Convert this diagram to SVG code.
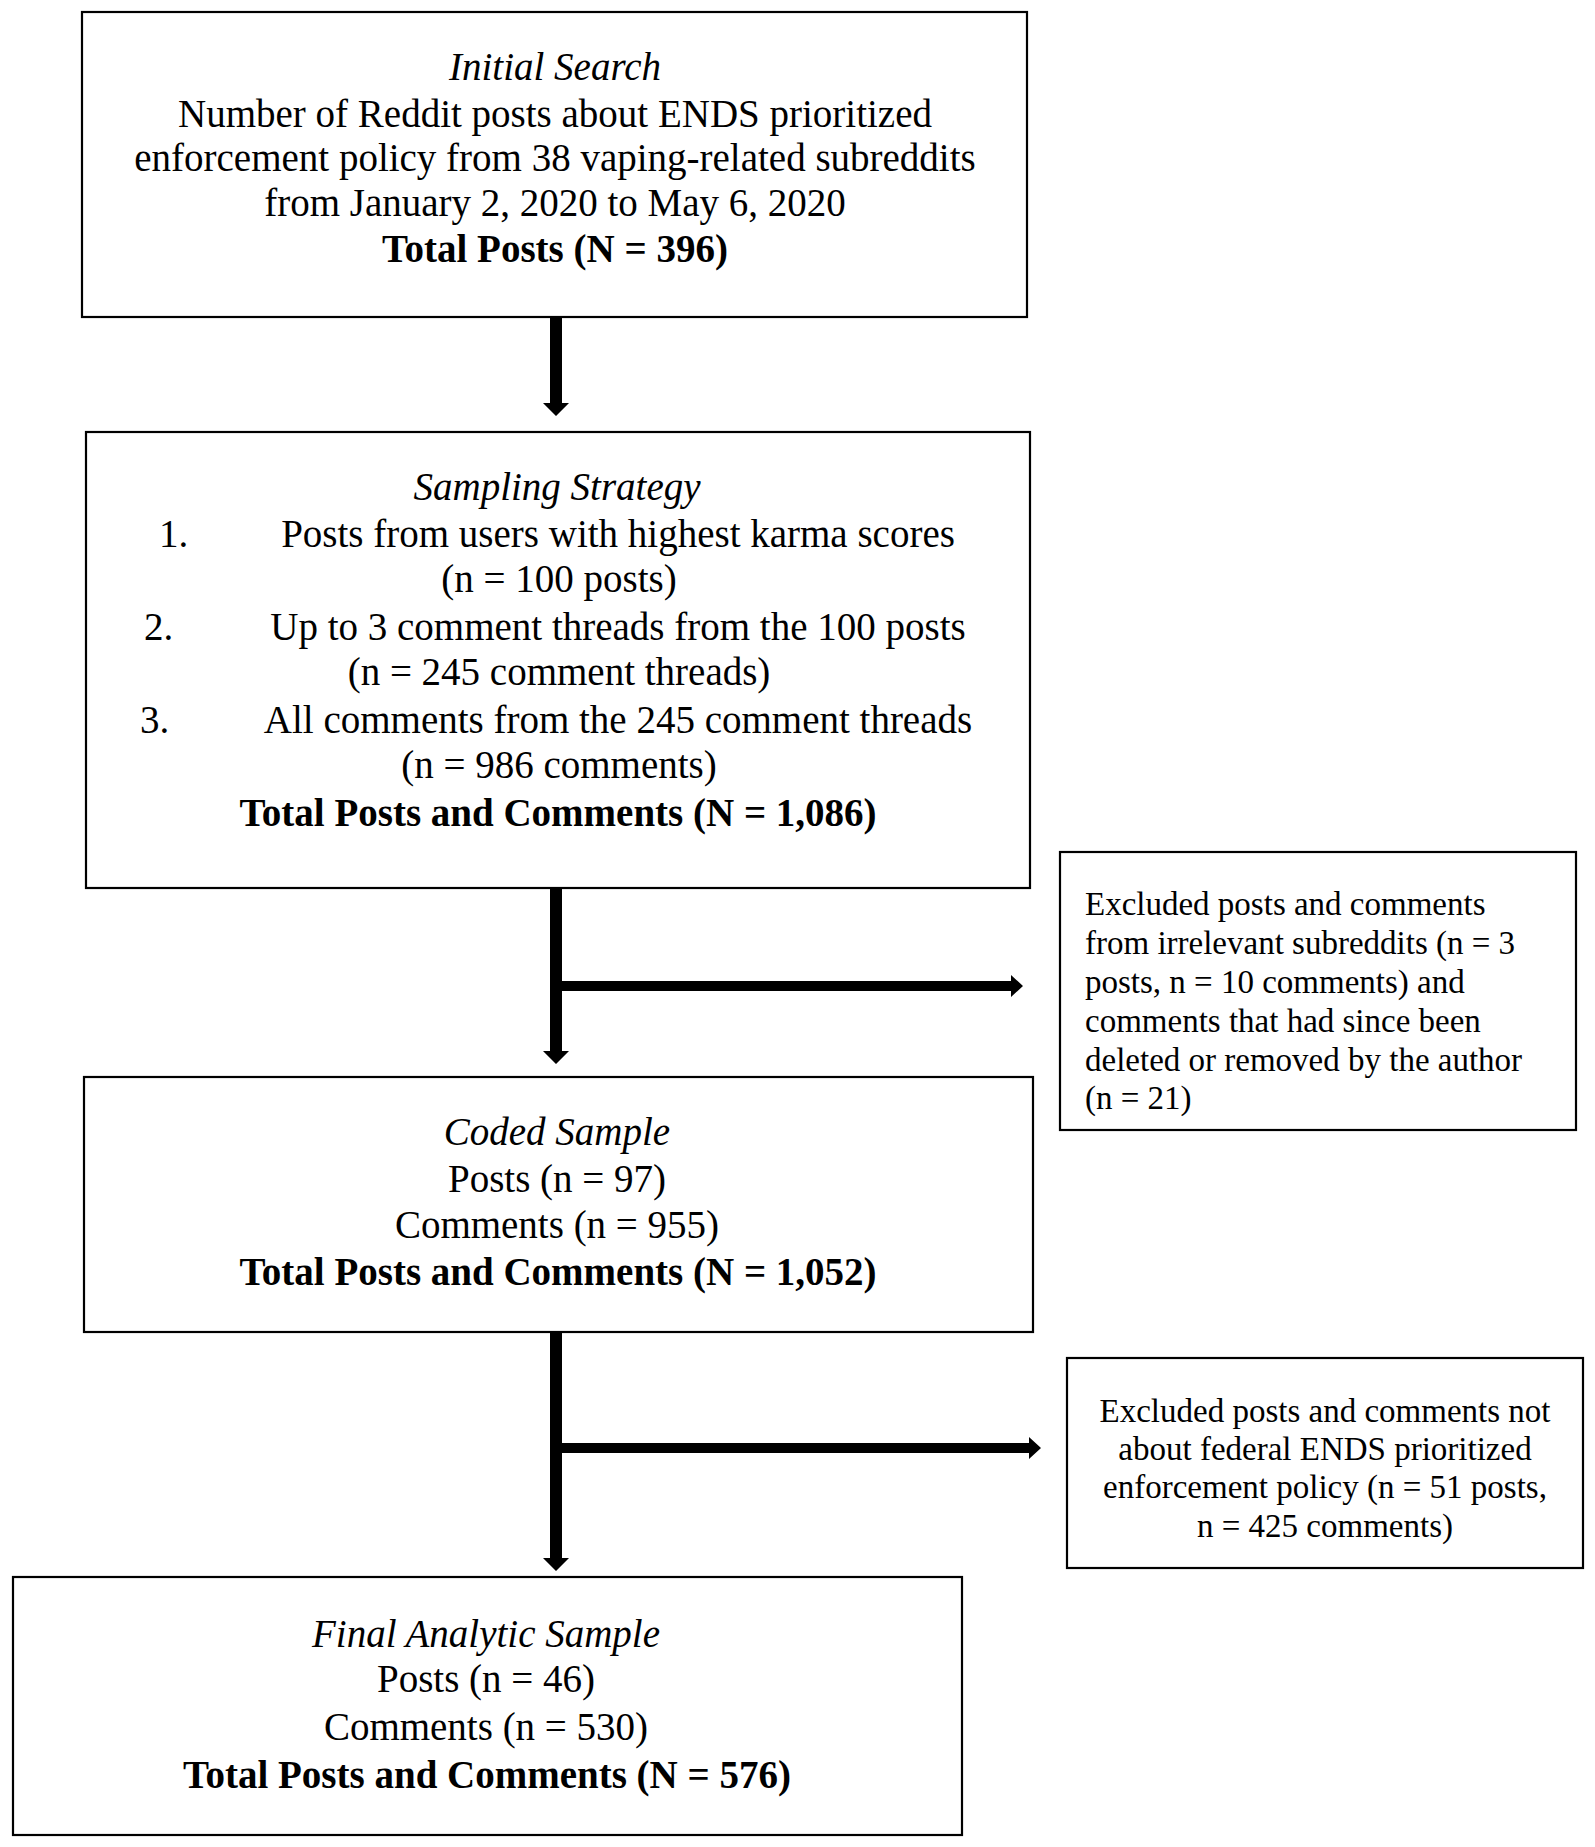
<svg xmlns="http://www.w3.org/2000/svg" width="1595" height="1847" viewBox="0 0 1595 1847">
<style>
.box{fill:#fff;stroke:#000;stroke-width:2.2}
.t{font-family:"Liberation Serif","Times New Roman",serif;font-size:39px;fill:#000}
.s{font-family:"Liberation Serif","Times New Roman",serif;font-size:33px;fill:#000}
.c{text-anchor:middle}
.i{font-style:italic}
.b{font-weight:bold}
.arr{fill:#000;stroke:none}
</style>
<rect width="1595" height="1847" fill="#fff"/>
<g id="connectors">
<path class="arr" d="M550,317 H562 V403 H569 L556,416 L543,403 H550 Z"/>
<path class="arr" d="M550,888 H562 V1051 H569 L556,1064 L543,1051 H550 Z"/>
<path class="arr" d="M562,981 H1011 V975 L1023,986 L1011,997 V991 H562 Z"/>
<path class="arr" d="M550,1332 H562 V1558 H569 L556,1571 L543,1558 H550 Z"/>
<path class="arr" d="M562,1443 H1029 V1437 L1041,1448 L1029,1459 V1453 H562 Z"/>
</g>
<g id="initial-search">
<rect class="box" x="82" y="12" width="945" height="305"/>
<text class="t c i" x="555" y="80">Initial Search</text>
<text class="t c" x="555" y="127">Number of Reddit posts about ENDS prioritized</text>
<text class="t c" x="555" y="171">enforcement policy from 38 vaping-related subreddits</text>
<text class="t c" x="555" y="216">from January 2, 2020 to May 6, 2020</text>
<text class="t c b" x="555" y="262">Total Posts (N = 396)</text>
</g>
<g id="sampling-strategy">
<rect class="box" x="86" y="432" width="944" height="456"/>
<text class="t c i" x="557" y="500">Sampling Strategy</text>
<text class="t" x="159" y="547">1.</text>
<text class="t c" x="618" y="547">Posts from users with highest karma scores</text>
<text class="t c" x="559" y="592">(n = 100 posts)</text>
<text class="t" x="144" y="640">2.</text>
<text class="t c" x="618" y="640">Up to 3 comment threads from the 100 posts</text>
<text class="t c" x="559" y="685">(n = 245 comment threads)</text>
<text class="t" x="140" y="733">3.</text>
<text class="t c" x="618" y="733">All comments from the 245 comment threads</text>
<text class="t c" x="559" y="778">(n = 986 comments)</text>
<text class="t c b" x="558" y="826">Total Posts and Comments (N = 1,086)</text>
</g>
<g id="exclusion-1">
<rect class="box" x="1060" y="852" width="516" height="278"/>
<text class="s" x="1085" y="915">Excluded posts and comments</text>
<text class="s" x="1085" y="954">from irrelevant subreddits (n = 3</text>
<text class="s" x="1085" y="993">posts, n = 10 comments) and</text>
<text class="s" x="1085" y="1032">comments that had since been</text>
<text class="s" x="1085" y="1071">deleted or removed by the author</text>
<text class="s" x="1085" y="1109">(n = 21)</text>
</g>
<g id="coded-sample">
<rect class="box" x="84" y="1077" width="949" height="255"/>
<text class="t c i" x="557" y="1145">Coded Sample</text>
<text class="t c" x="557" y="1192">Posts (n = 97)</text>
<text class="t c" x="557" y="1238">Comments (n = 955)</text>
<text class="t c b" x="558" y="1285">Total Posts and Comments (N = 1,052)</text>
</g>
<g id="exclusion-2">
<rect class="box" x="1067" y="1358" width="516" height="210"/>
<text class="s c" x="1325" y="1422">Excluded posts and comments not</text>
<text class="s c" x="1325" y="1460">about federal ENDS prioritized</text>
<text class="s c" x="1325" y="1498">enforcement policy (n = 51 posts,</text>
<text class="s c" x="1325" y="1537">n = 425 comments)</text>
</g>
<g id="final-sample">
<rect class="box" x="13" y="1577" width="949" height="258"/>
<text class="t c i" x="486" y="1647">Final Analytic Sample</text>
<text class="t c" x="486" y="1692">Posts (n = 46)</text>
<text class="t c" x="486" y="1740">Comments (n = 530)</text>
<text class="t c b" x="487" y="1788">Total Posts and Comments (N = 576)</text>
</g>
</svg>
